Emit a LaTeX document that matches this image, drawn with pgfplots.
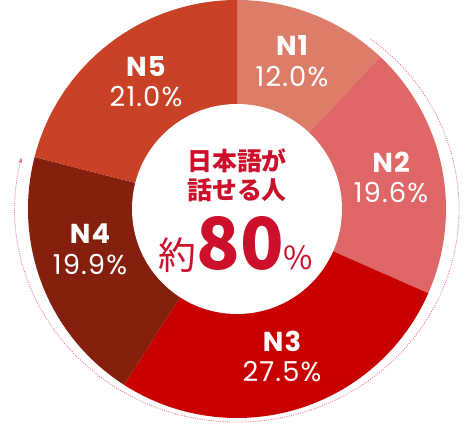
\documentclass[border=0pt]{standalone}
\usepackage{pgfplots}
\pgfplotsset{compat=1.18}
\usepackage{pgfplotstable}
\usepackage{fontspec}
\setmainfont{Poppins}
\newfontfamily\labfont[LetterSpace=4]{Poppins}
\newfontfamily\cjk{Noto Sans CJK JP}
\usetikzlibrary{arrows.meta}

\definecolor{cN1}{HTML}{DC7D69}
\definecolor{cN2}{HTML}{E06767}
\definecolor{cN3}{HTML}{C80000}
\definecolor{cN4}{HTML}{85200F}
\definecolor{cN5}{HTML}{C94126}
\definecolor{ctext}{HTML}{CC0F2A}
\definecolor{cdot}{HTML}{E8707E}

% JLPT level shares, clockwise from the top; lx ly = label centre
\pgfplotstableread{
level share color lx ly
N1 12.0 cN1 292 364
N2 19.6 cN2 391 248
N3 27.5 cN3 282 69
N4 19.9 cN4 90 176
N5 21.0 cN5 146 344
}\shares

\def\cx{237}\def\cy{216}
\def\ro{209}

\newcommand{\piece}[3]{% color, start, stop
  \fill[#1] (axis cs:\cx,\cy) -- ++(#2:\ro bp)
    arc[start angle=#2, end angle=#3, radius=\ro bp] -- cycle;
}
\newcommand{\tag}[4]{% x, y, level, share
  \node[white, font=\labfont\bfseries\fontsize{27.5}{27.5}\selectfont] at (axis cs:#1,#2+15) {#3};
  \node[white, font=\labfont\fontsize{27.5}{27.5}\selectfont] at (axis cs:#1,#2-16) {#4\%};
}

\begin{document}
\begin{tikzpicture}
\begin{axis}[
  scale only axis,
  width=471bp, height=432bp,
  xmin=0, xmax=471, ymin=0, ymax=432,
  hide axis,
]
\pgfmathsetmacro{\start}{90}
\pgfplotsforeachungrouped \i in {0,...,4}{%
  \pgfplotstablegetelem{\i}{share}\of\shares \let\v\pgfplotsretval
  \pgfplotstablegetelem{\i}{color}\of\shares \let\c\pgfplotsretval
  \pgfplotstablegetelem{\i}{level}\of\shares \let\n\pgfplotsretval
  \pgfplotstablegetelem{\i}{lx}\of\shares \let\lx\pgfplotsretval
  \pgfplotstablegetelem{\i}{ly}\of\shares \let\ly\pgfplotsretval
  \pgfmathsetmacro{\stop}{\start-3.6*\v}
  \edef\temp{\noexpand\piece{\c}{\start}{\stop}}\temp
  \edef\temp{\noexpand\tag{\lx}{\ly}{\n}{\v}}\temp
  \global\let\start\stop
}
% white hole
\fill[white] (axis cs:\cx,\cy) circle[radius=105bp];
% dotted arrow round the N2 to N4 side
\draw[cdot, line width=0.9bp, dash pattern=on 0.9bp off 1.4bp,
  -{Stealth[length=6bp, width=4bp]}]
  (axis cs:370.6,386.1) arc[start angle=53, end angle=-194, x radius=222bp, y radius=213bp];
% centre text
\node[ctext, font=\cjk\bfseries\fontsize{25}{25}\selectfont] at (axis cs:237,264) {日本語が};
\node[ctext, font=\cjk\bfseries\fontsize{25}{25}\selectfont] at (axis cs:237,235) {話せる人};
\node[ctext, anchor=base, inner sep=0pt] at (axis cs:236,155)
  {{\cjk\fontsize{38}{38}\selectfont 約}{\cjk\bfseries\fontsize{72}{72}\selectfont 80}{\cjk\fontsize{32}{32}\selectfont\%}};
\end{axis}
\end{tikzpicture}
\end{document}
